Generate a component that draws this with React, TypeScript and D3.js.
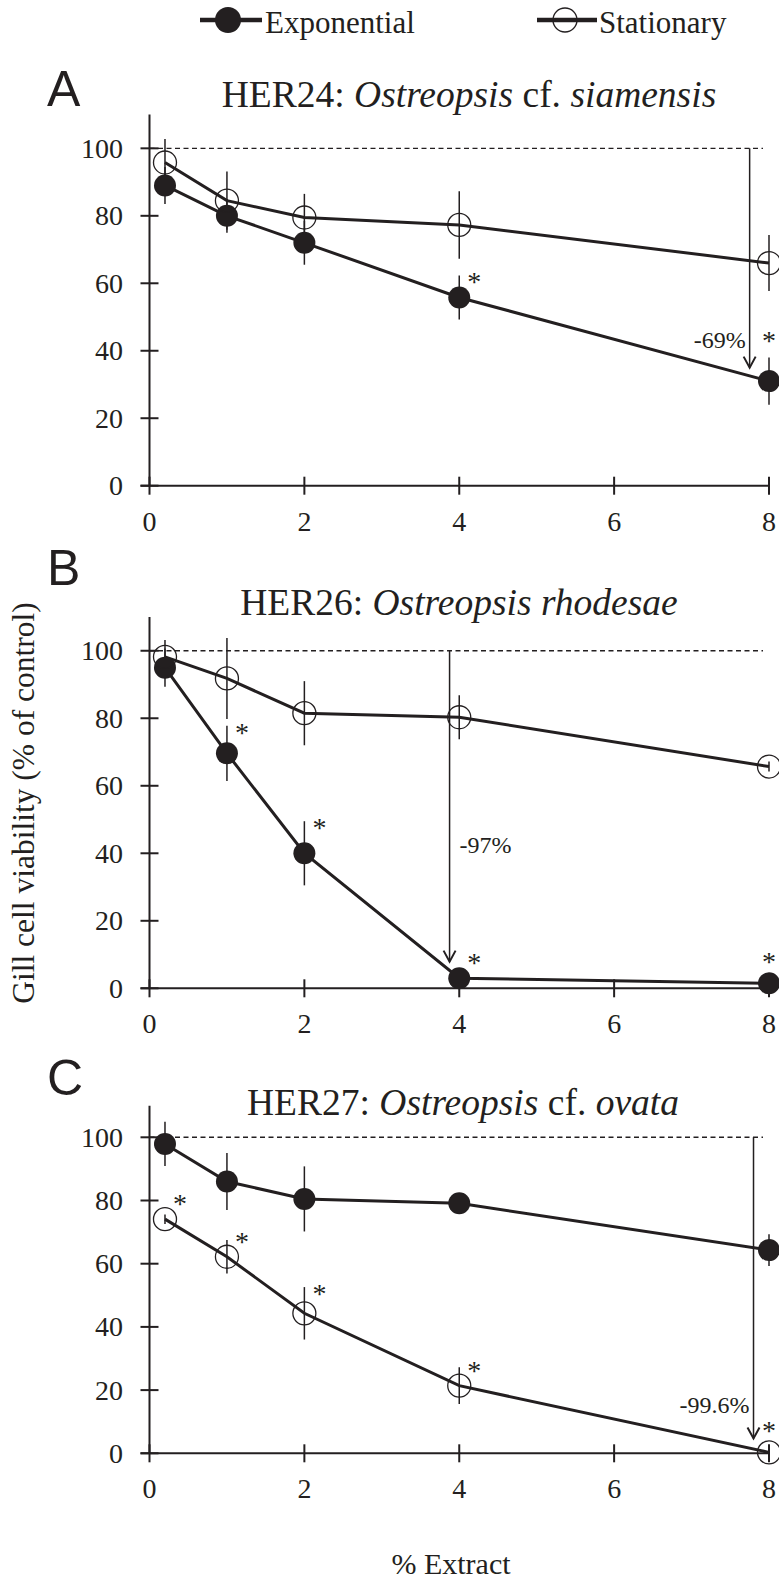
import React, { useEffect, useRef } from "react";
import * as d3 from "d3";

// % extract concentrations
const extract = [0.2, 1, 2, 4, 8];
const xTicks = [0, 2, 4, 6, 8];
const yTicks = [0, 20, 40, 60, 80, 100];

const panelLetters = ["A", "B", "C"];
const strains = ["HER24", "HER26", "HER27"];
const genus = ["Ostreopsis", "Ostreopsis", "Ostreopsis"];
const qualifier = ["cf.", "", "cf."];
const species = ["siamensis", "rhodesae", "ovata"];

// HER24
const expA = [89, 80, 72, 55.8, 31];
const expAErr = [5.5, 5, 6.5, 6.5, 7];
const expASig = [0, 0, 0, 1, 1];
const statA = [95.8, 84.5, 79.5, 77.3, 66];
const statAErr = [7, 8.6, 7, 10, 8.3];
const statASig = [0, 0, 0, 0, 0];

// HER26
const expB = [95, 69.6, 40, 3, 1.5];
const expBErr = [5.7, 8.2, 9.5, 1, 1];
const expBSig = [0, 1, 1, 1, 1];
const statB = [98.2, 91.8, 81.5, 80.3, 65.7];
const statBErr = [5, 12, 9.5, 6.5, 1.5];
const statBSig = [0, 0, 0, 0, 0];

// HER27
const expC = [97.9, 86, 80.5, 79.1, 64.3];
const expCErr = [7, 9, 10.3, 1, 5];
const expCSig = [0, 0, 0, 0, 0];
const statC = [74.1, 62.2, 44.3, 21.4, 0.3];
const statCErr = [1.5, 5.3, 8.3, 5.8, 1];
const statCSig = [1, 1, 1, 1, 1];

// reduction arrows (x in % extract, arrow tip value)
const reductionLabels = ["-69%", "-97%", "-99.6%"];
const arrowX = [7.75, 3.875, 7.8];
const arrowTip = [35, 7.9, 4.7];
const labelValue = [40.8, 40.1, 12.8];

const seriesNames = ["Exponential", "Stationary"];

const ink = "#231f20";
const serif = "'Liberation Serif', 'Times New Roman', Times, serif";
const sans = "'Liberation Sans', Arial, sans-serif";

const W = 779;
const H = 1580;

const layout = [
  { bottom: 485.7, top: 114.6, letterY: 106, titleY: 107, titleX: 469, labelSide: "left" },
  { bottom: 988.3, top: 617, letterY: 585, titleY: 615, titleX: 459, labelSide: "right" },
  { bottom: 1453.3, top: 1105.7, letterY: 1095, titleY: 1115, titleX: 463, labelSide: "left" },
];

const panelData = [
  { exp: expA, expErr: expAErr, expSig: expASig, stat: statA, statErr: statAErr, statSig: statASig },
  { exp: expB, expErr: expBErr, expSig: expBSig, stat: statB, statErr: statBErr, statSig: statBSig },
  { exp: expC, expErr: expCErr, expSig: expCSig, stat: statC, statErr: statCErr, statSig: statCSig },
];

export default function App() {
  const svgRef = useRef(null);

  useEffect(() => {
    const svg = d3.select(svgRef.current);
    svg.selectAll("*").remove();

    const x = d3.scaleLinear().domain([0, 8]).range([149.5, 769]);

    // legend
    const lg = svg.append("g");
    const legendMarks = [
      { x1: 200, x2: 262, cx: 228, tx: 265, filled: true },
      { x1: 537, x2: 597, cx: 565, tx: 599, filled: false },
    ];
    legendMarks.forEach((m, i) => {
      lg.append("line").attr("x1", m.x1).attr("x2", m.x2).attr("y1", 20).attr("y2", 20)
        .attr("stroke", ink).attr("stroke-width", 4.5);
      lg.append("circle").attr("cx", m.cx).attr("cy", 20).attr("r", m.filled ? 13 : 12)
        .attr("fill", m.filled ? ink : "none").attr("stroke", ink).attr("stroke-width", m.filled ? 0 : 1.3);
      lg.append("text").attr("x", m.tx).attr("y", 33).attr("font-family", serif)
        .attr("font-size", 31).attr("fill", ink).text(seriesNames[i]);
    });

    panelData.forEach((d, p) => {
      const L = layout[p];
      const y = d3.scaleLinear().domain([0, 110]).range([L.bottom, L.top]);
      const g = svg.append("g");

      // panel letter
      g.append("text").attr("x", 47).attr("y", L.letterY).attr("font-family", sans)
        .attr("font-size", 50).attr("fill", ink).text(panelLetters[p]);

      // title
      const t = g.append("text").attr("x", L.titleX).attr("y", L.titleY).attr("text-anchor", "middle")
        .attr("font-family", serif).attr("font-size", 37.5).attr("fill", ink);
      t.append("tspan").text(strains[p] + ": ");
      t.append("tspan").attr("font-style", "italic").text(genus[p]);
      if (qualifier[p]) t.append("tspan").text(" " + qualifier[p]);
      t.append("tspan").attr("font-style", "italic").text(" " + species[p]);

      // control line
      g.append("line").attr("x1", x(0)).attr("x2", 763).attr("y1", y(100)).attr("y2", y(100))
        .attr("stroke", ink).attr("stroke-width", 1.4).attr("stroke-dasharray", "5,3.5");

      // axes
      g.append("line").attr("x1", x(0)).attr("x2", x(0)).attr("y1", y(110)).attr("y2", y(0))
        .attr("stroke", ink).attr("stroke-width", 2);
      g.append("line").attr("x1", x(0) - 9).attr("x2", x(8)).attr("y1", y(0)).attr("y2", y(0))
        .attr("stroke", ink).attr("stroke-width", 2);
      g.selectAll(".yt").data(yTicks).enter().append("line")
        .attr("x1", x(0) - 9).attr("x2", x(0) + 9).attr("y1", (v) => y(v)).attr("y2", (v) => y(v))
        .attr("stroke", ink).attr("stroke-width", 2);
      g.selectAll(".ytl").data(yTicks).enter().append("text")
        .attr("x", 123).attr("y", (v) => y(v)).attr("dy", "0.34em").attr("text-anchor", "end")
        .attr("font-family", serif).attr("font-size", 28).attr("fill", ink).text((v) => v);
      g.selectAll(".xt").data(xTicks).enter().append("line")
        .attr("x1", (v) => x(v)).attr("x2", (v) => x(v)).attr("y1", y(0) - 9).attr("y2", y(0) + 9)
        .attr("stroke", ink).attr("stroke-width", 2);
      g.selectAll(".xtl").data(xTicks).enter().append("text")
        .attr("x", (v) => x(v)).attr("y", y(0) + 45).attr("text-anchor", "middle")
        .attr("font-family", serif).attr("font-size", 28).attr("fill", ink).text((v) => v);

      // reduction arrow
      const ax = x(arrowX[p]);
      const tipY = y(arrowTip[p]);
      g.append("line").attr("x1", ax).attr("x2", ax).attr("y1", y(100)).attr("y2", tipY)
        .attr("stroke", ink).attr("stroke-width", 1.5);
      g.append("path").attr("d", `M${ax - 6},${tipY - 11}L${ax},${tipY}L${ax + 6},${tipY - 11}`)
        .attr("fill", "none").attr("stroke", ink).attr("stroke-width", 2);
      const left = L.labelSide === "left";
      g.append("text").attr("x", left ? ax - 4 : ax + 10).attr("y", y(labelValue[p]))
        .attr("text-anchor", left ? "end" : "start").attr("font-family", serif)
        .attr("font-size", 24).attr("fill", ink).text(reductionLabels[p]);

      const series = [
        { v: d.exp, e: d.expErr, s: d.expSig, filled: true },
        { v: d.stat, e: d.statErr, s: d.statSig, filled: false },
      ];
      const line = d3.line<number>().x((_, i) => x(extract[i])).y((v) => y(v));

      series.forEach((sr) => {
        g.selectAll(null).data(sr.v).enter().append("line")
          .attr("x1", (_, i) => x(extract[i])).attr("x2", (_, i) => x(extract[i]))
          .attr("y1", (v, i) => y(v + sr.e[i])).attr("y2", (v, i) => y(v - sr.e[i]))
          .attr("stroke", ink).attr("stroke-width", 1.5);
      });
      series.forEach((sr) => {
        g.append("path").datum(sr.v).attr("d", line).attr("fill", "none")
          .attr("stroke", ink).attr("stroke-width", 3);
      });
      series.forEach((sr) => {
        g.selectAll(null).data(sr.v).enter().append("circle")
          .attr("cx", (_, i) => x(extract[i])).attr("cy", (v) => y(v))
          .attr("r", sr.filled ? 11 : 11.5)
          .attr("fill", sr.filled ? ink : "none")
          .attr("stroke", ink).attr("stroke-width", sr.filled ? 0 : 1.3);
        // significance asterisks
        sr.v.forEach((v, i) => {
          if (!sr.s[i]) return;
          const last = i === extract.length - 1;
          const py = y(v);
          const top = y(v + sr.e[i]);
          const cy = last ? Math.min(py - 26, top - 22) : Math.min(py - 20, top + 2);
          g.append("text").attr("x", last ? x(extract[i]) : x(extract[i]) + 15).attr("y", cy + 14)
            .attr("text-anchor", "middle").attr("font-family", serif).attr("font-size", 28)
            .attr("fill", ink).text("*");
        });
      });
    });

    // axis titles
    svg.append("text").attr("transform", "translate(34,803) rotate(-90)").attr("text-anchor", "middle")
      .attr("font-family", serif).attr("font-size", 31.5).attr("fill", ink)
      .text("Gill cell viability (% of control)");
    svg.append("text").attr("x", 451).attr("y", 1574).attr("text-anchor", "middle")
      .attr("font-family", serif).attr("font-size", 30).attr("fill", ink).text("% Extract");
  }, []);

  return (
    <svg
      ref={svgRef}
      width={W}
      height={H}
      fontFamily={serif}
      style={{ position: "absolute", left: 0, top: 0, background: "#fff" }}
    />
  );
}
